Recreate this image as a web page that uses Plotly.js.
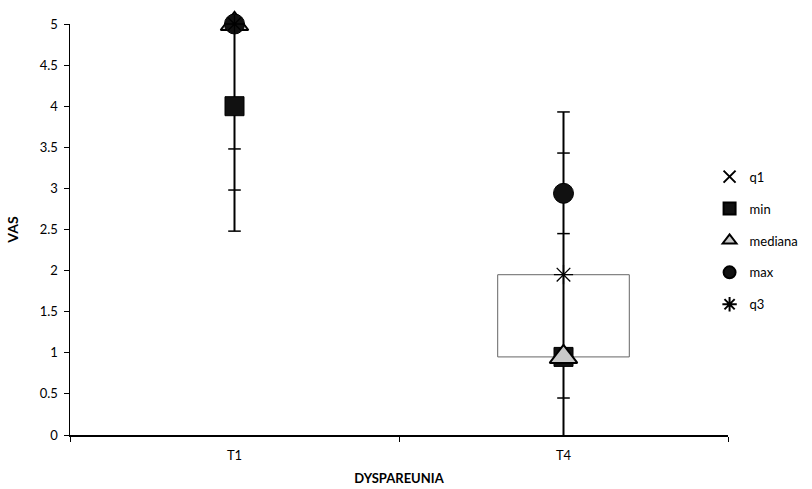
<!DOCTYPE html>
<html>
<head>
<meta charset="utf-8">
<script src="https://cdn.plot.ly/plotly-3.0.1.min.js"></script>
<style>html,body{margin:0;padding:0;background:#fff;}#chart{width:812px;height:489px;}</style>
</head>
<body>
<div id="chart"></div>
<script>
// Data
var categories = ["T1", "T4"];
var q1 = [5, 0.95];
var minVals = [4, 0.95];
var mediana = [5, 0.95];
var maxVals = [5, 2.94];
var q3 = [5, 1.95];
// whisker (high-low) extents and error-bar caps
var whiskerLow = [2.48, 0];
var whiskerHigh = [5, 3.93];
var capsT1 = [3.48, 2.98, 2.48];
var capsT4 = [3.93, 3.43, 2.45, 0.45];

var FONT = "Lato, 'Open Sans', sans-serif";
var traces = [];

// whisker lines
for (var i = 0; i < categories.length; i++) {
  traces.push({
    x: [categories[i], categories[i]], y: [whiskerLow[i], whiskerHigh[i]],
    mode: "lines", line: {color: "#000", width: 2}, showlegend: false, hoverinfo: "skip",
    cliponaxis: false
  });
}
// caps
traces.push({
  x: capsT1.map(function(){return categories[0];}).concat(capsT4.map(function(){return categories[1];})),
  y: capsT1.concat(capsT4),
  mode: "markers", marker: {symbol: "line-ew", size: 9, line: {color: "#000", width: 1.5}},
  showlegend: false, hoverinfo: "skip", cliponaxis: false
});

traces.push({name: "q1", x: categories, y: q1, mode: "markers", legendgroup: "a", cliponaxis: false,
  marker: {symbol: "x-thin-open", size: 13, color: "#000", line: {color: "#000", width: 1.5}}});
traces.push({name: "min", x: categories, y: minVals, mode: "markers", legendgroup: "b", cliponaxis: false,
  marker: {symbol: "square", size: 19, color: "#111", line: {color: "#000", width: 1}}});
traces.push({name: "mediana", x: categories, y: mediana, mode: "markers", legendgroup: "c", cliponaxis: false,
  marker: {symbol: "triangle-up", size: 24, color: "#c8c8c8", line: {color: "#000", width: 2}}});
traces.push({name: "max", x: categories, y: maxVals, mode: "markers", legendgroup: "d", cliponaxis: false,
  marker: {symbol: "circle", size: 20, color: "#111", line: {color: "#000", width: 1}}});
traces.push({name: "q3", x: categories, y: q3, mode: "markers", legendgroup: "e", cliponaxis: false,
  marker: {symbol: "asterisk-open", size: 16, color: "#000", line: {color: "#000", width: 1.3}}});

var boxHalf = 0.2;
var layout = {
  width: 812, height: 489,
  margin: {l: 70, r: 84, t: 24, b: 54, autoexpand: false},
  paper_bgcolor: "#fff", plot_bgcolor: "#fff",
  font: {family: FONT, size: 13, color: "#000"},
  xaxis: {
    type: "category", range: [-0.5, 1.5], showgrid: false, zeroline: false,
    showline: true, linecolor: "#000", linewidth: 1.5,
    ticks: "outside", tickson: "boundaries", ticklen: 5, tickcolor: "#000",
    ticklabelstandoff: 8,
    tickfont: {family: FONT, size: 13, color: "#000"},
    title: {text: "<b>DYSPAREUNIA</b>", font: {family: FONT, size: 13, color: "#000"}, standoff: 12}
  },
  yaxis: {
    range: [0, 5], dtick: 0.5, showgrid: false, zeroline: false,
    showline: true, linecolor: "#000", linewidth: 1.5,
    ticks: "outside", ticklen: 5, tickcolor: "#000",
    ticklabelstandoff: 3,
    tickfont: {family: FONT, size: 13, color: "#000"},
    title: {text: "<b>VAS</b>", font: {family: FONT, size: 14, color: "#000"}, standoff: 18}
  },
  shapes: [{
    type: "rect", xref: "x", yref: "y", layer: "below",
    x0: 1 - boxHalf, x1: 1 + boxHalf, y0: q1[1], y1: q3[1],
    line: {color: "#666", width: 1}, fillcolor: "rgba(255,255,255,0)"
  }],
  showlegend: true,
  legend: {
    x: 0.972, xanchor: "left", y: 0.665, yanchor: "top",
    font: {family: FONT, size: 13, color: "#000"},
    tracegroupgap: 12, itemsizing: "constant", bgcolor: "rgba(0,0,0,0)"
  }
};

Plotly.newPlot("chart", traces, layout, {displayModeBar: false, staticPlot: true});
</script>
</body>
</html>
